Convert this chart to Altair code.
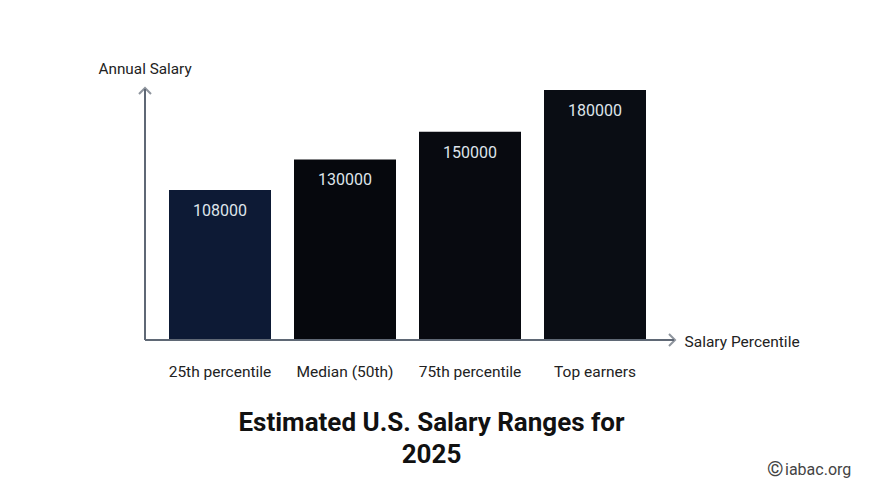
import altair as alt
import pandas as pd

# Salary bands and their estimated values
categories = ["25th percentile", "Median (50th)", "75th percentile", "Top earners"]
salaries = [108000, 130000, 150000, 180000]
bar_colors = ["#0d1a35", "#06080d", "#080a10", "#0a0d14"]

FONT = "Roboto"
AXIS_COLOR = "#5f6875"
W, H = 525, 260

bars_df = pd.DataFrame({"category": categories, "salary": salaries, "color": bar_colors})
one_row = pd.DataFrame({"k": [0]})

x_enc = alt.X(
    "category:N",
    sort=categories,
    scale=alt.Scale(paddingInner=0.184, paddingOuter=0.192),
    axis=alt.Axis(
        title="Salary Percentile",
        labelAngle=0,
        labelPadding=24,
        labelFont=FONT,
        labelFontSize=15.5,
        labelColor="#222222",
        ticks=False,
        domain=False,
        titleFont=FONT,
        titleFontSize=15.5,
        titleFontWeight="normal",
        titleColor="#222222",
        titleAngle=0,
        titleAlign="left",
        titleBaseline="middle",
        titleX=539,
        titleY=1,
    ),
)
y_enc = alt.Y(
    "salary:Q",
    scale=alt.Scale(domain=[0, 187200], nice=False, zero=True),
    axis=alt.Axis(
        title="Annual Salary",
        labels=False,
        ticks=False,
        grid=False,
        domain=False,
        titleFont=FONT,
        titleFontSize=15.3,
        titleFontWeight="normal",
        titleColor="#222222",
        titleAngle=0,
        titleAlign="left",
        titleBaseline="middle",
        titleX=-47,
        titleY=-12,
    ),
)

bars = alt.Chart(bars_df).mark_bar().encode(
    x=x_enc, y=y_enc, color=alt.Color("color:N", scale=None)
)

values = alt.Chart(bars_df).mark_text(
    dy=21, baseline="middle", font=FONT, fontSize=16, color="#dfe4ea"
).encode(x=x_enc, y=y_enc, text=alt.Text("salary:Q", format="d"))

# Axis lines with open arrow heads
x_line = alt.Chart(one_row).mark_rule(color=AXIS_COLOR, strokeWidth=2).encode(
    x=alt.value(0), x2=alt.value(529), y=alt.value(H)
)
y_line = alt.Chart(one_row).mark_rule(color=AXIS_COLOR, strokeWidth=2).encode(
    x=alt.value(0), y=alt.value(9), y2=alt.value(H)
)
x_head = alt.Chart(one_row).mark_point(
    shape="M -1 -1 L 0 0 L -1 1", filled=False, stroke=AXIS_COLOR, strokeWidth=2, size=144
).encode(x=alt.value(530), y=alt.value(H))
y_head = alt.Chart(one_row).mark_point(
    shape="M -1 1 L 0 0 L 1 1", filled=False, stroke=AXIS_COLOR, strokeWidth=2, size=144
).encode(x=alt.value(0), y=alt.value(8))

# Site mark in the lower right corner
mark_c = alt.Chart(one_row).mark_text(
    text="©", font=FONT, fontSize=21, color="#444444", align="left", baseline="middle"
).encode(x=alt.value(622), y=alt.value(390))
mark_site = alt.Chart(one_row).mark_text(
    text="iabac.org", font=FONT, fontSize=16, color="#444444", align="left", baseline="middle"
).encode(x=alt.value(640), y=alt.value(390))

chart = (
    alt.layer(bars, values, x_line, y_line, x_head, y_head, mark_c, mark_site)
    .properties(
        width=W,
        height=H,
        autosize=alt.AutoSizeParams(type="none"),
        padding={"left": 145, "top": 80, "right": 200, "bottom": 148},
        background="white",
        title=alt.TitleParams(
            text=["Estimated U.S. Salary Ranges for", "2025"],
            orient="bottom",
            anchor="middle",
            font=FONT,
            fontSize=26,
            fontWeight="bold",
            color="#111111",
            lineHeight=32,
            offset=-70,
            dx=24,
        ),
    )
    .configure_view(stroke=None)
)

chart.save("out.html", embed_options={"renderer": "svg", "actions": False})
